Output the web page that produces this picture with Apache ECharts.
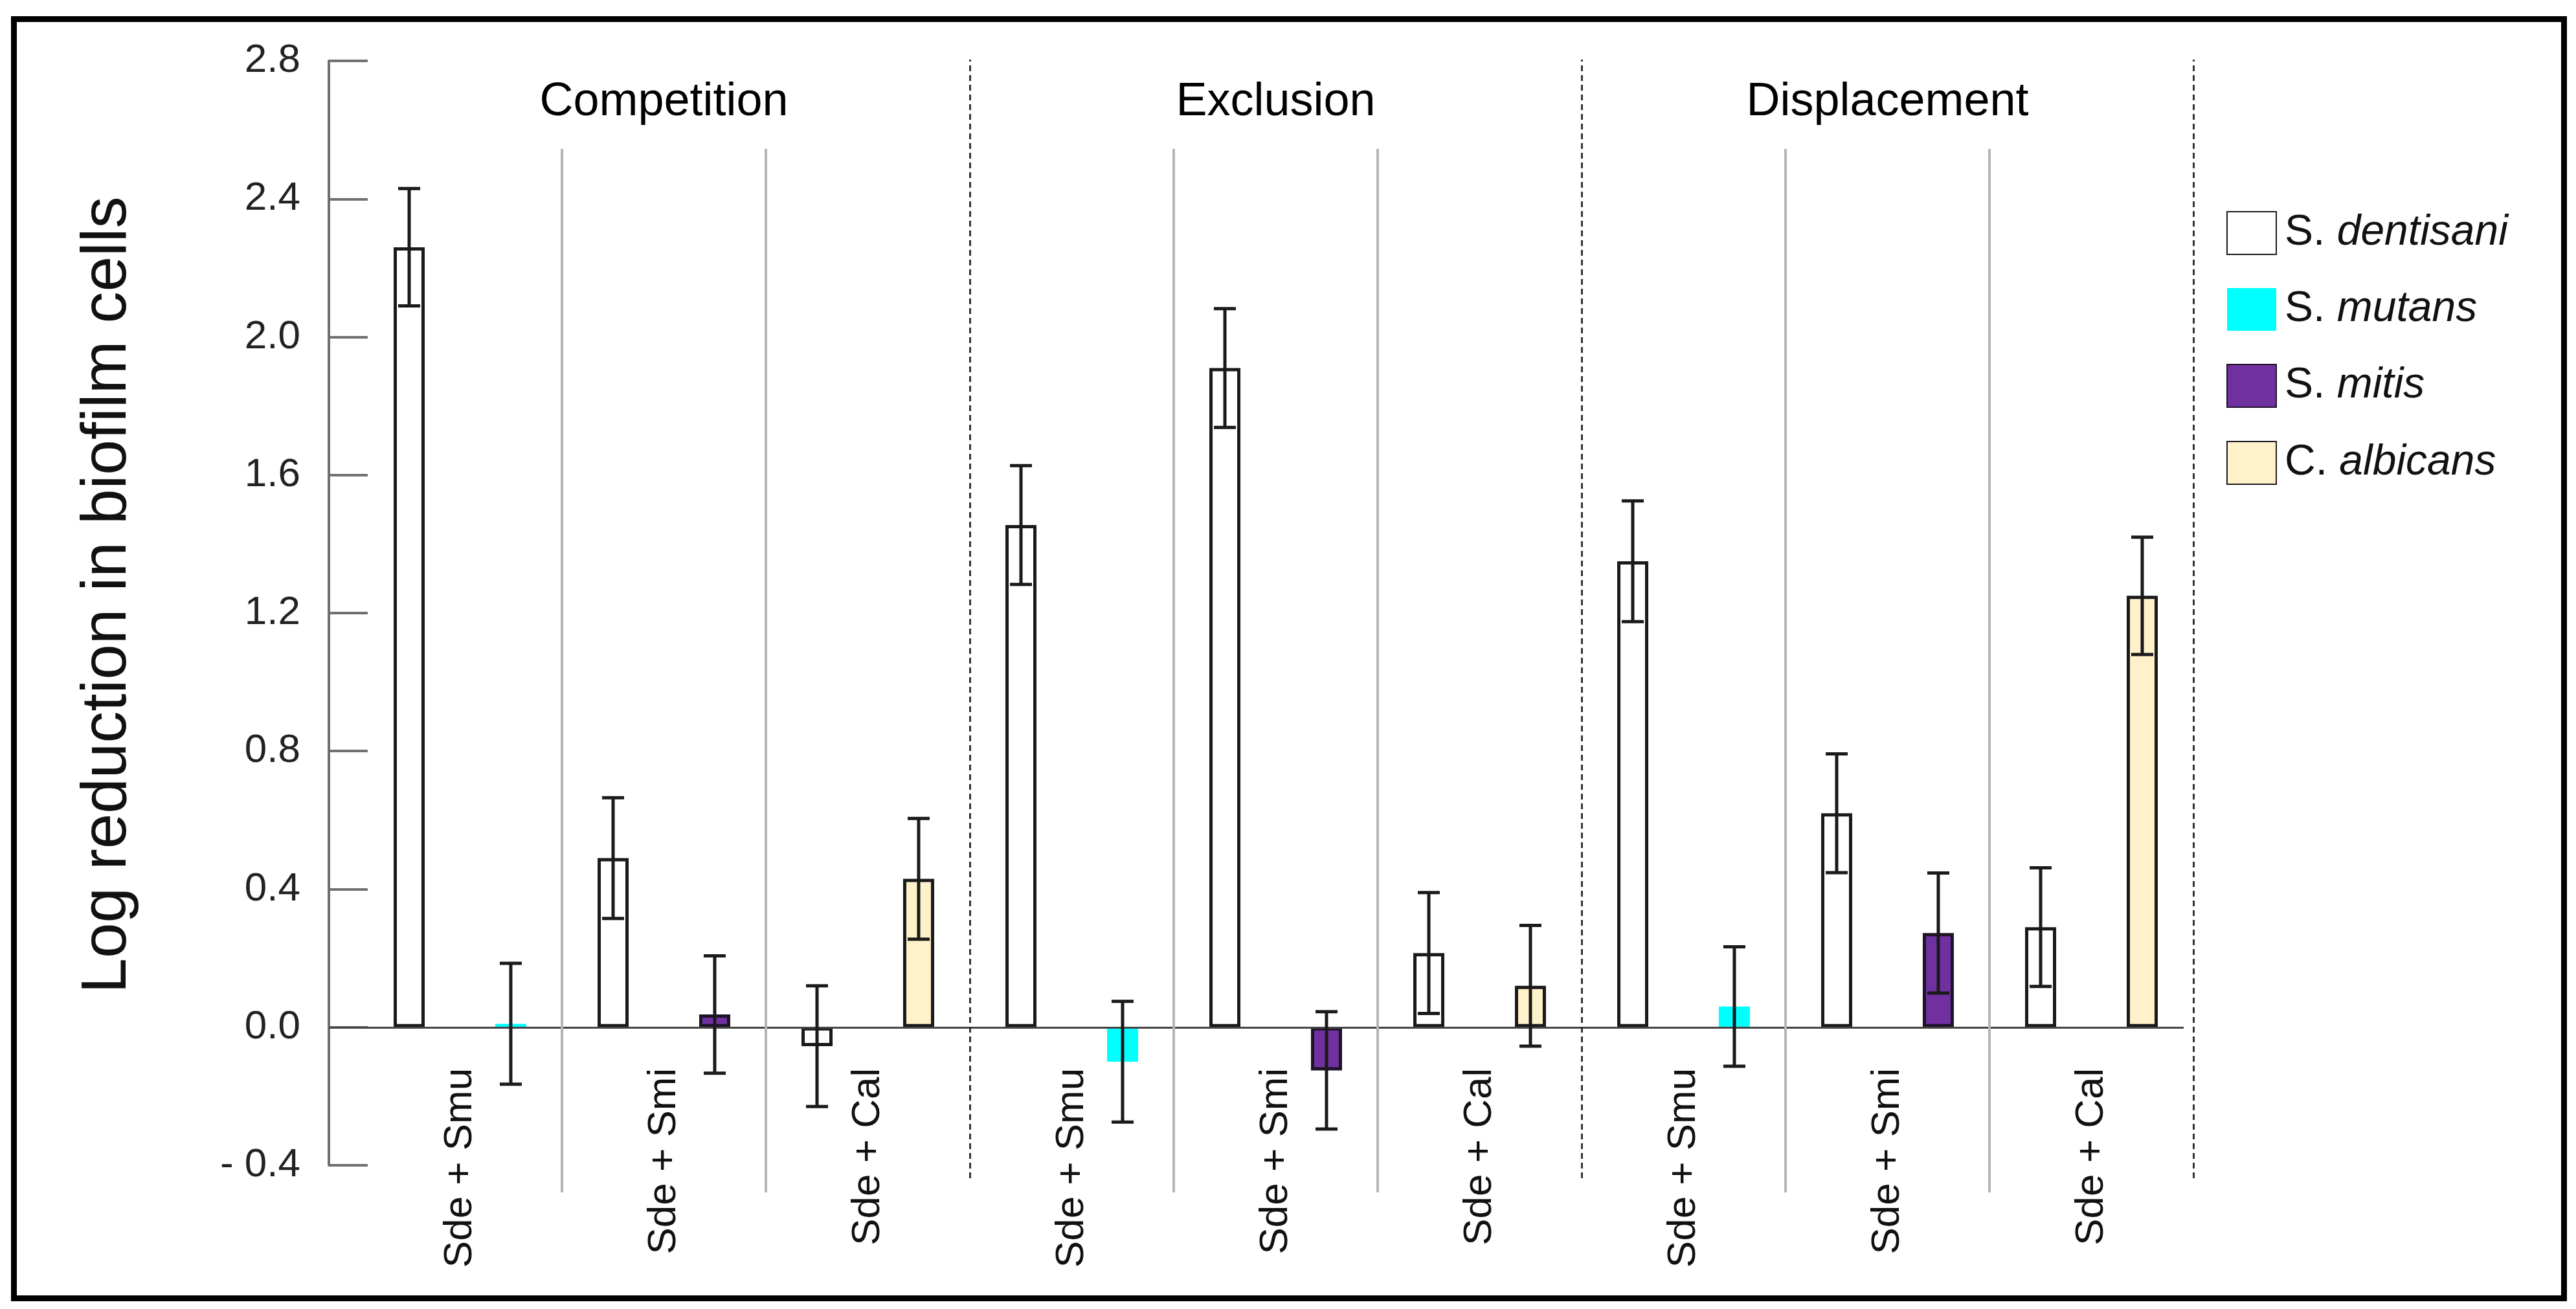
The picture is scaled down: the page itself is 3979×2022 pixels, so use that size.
<!DOCTYPE html>
<html>
<head>
<meta charset="utf-8">
<script src="https://cdn.jsdelivr.net/npm/echarts@6/dist/echarts.min.js"></script>
<style>
html,body{margin:0;padding:0;background:#fff;}
#chart{width:3979px;height:2022px;}
</style>
</head>
<body>
<div id="chart"></div>
<script>
// ---------------- data ----------------
const categories = ['Sde + Smu','Sde + Smi','Sde + Cal','Sde + Smu','Sde + Smi','Sde + Cal','Sde + Smu','Sde + Smi','Sde + Cal'];
const scenarios = ['Competition','Exclusion','Displacement'];
const dentisani    = [2.26, 0.49, -0.055, 1.455, 1.91, 0.215, 1.35, 0.62, 0.29];
const dentisaniErr = [0.17, 0.175, 0.175, 0.172, 0.172, 0.175, 0.175, 0.172, 0.172];
const mutans   = [0.01, null, null, -0.10, null, null, 0.06, null, null];
const mitis    = [null, 0.037, null, null, -0.125, null, null, 0.273, null];
const albicans = [null, null, 0.43, null, null, 0.12, null, null, 1.25];
const partnerErr = [0.175, 0.17, 0.175, 0.175, 0.17, 0.175, 0.173, 0.174, 0.17];
const yMin = -0.4, yMax = 2.8, yStep = 0.4;
const legendNames = ['S. dentisani','S. mutans','S. mitis','C. albicans'];
// separator positions in category units
const graySeparators = [1, 2, 4, 5, 7, 8];
const dashedSeparators = [3, 6, 9];

// ---------------- style ----------------
const FONT = "'Liberation Sans', Arial, sans-serif";
const BAR_W = 48, GAP_PCT = 227;
const OFFSET = BAR_W * (1 + GAP_PCT / 100) / 2;
const EDGE = '#1a1a1a';
const PLOT = {left: 553, right: 591, top: 94, bottom: 222};
const CHART_H = 2022;
// distance from grid bottom (y = yMin) up to y = 0, so the category labels hang from the zero line
const plotH = CHART_H - PLOT.top - PLOT.bottom;
const zeroLift = plotH * (0 - yMin) / (yMax - yMin);

const partnerMean = mutans.map((v, i) => v != null ? v : (mitis[i] != null ? mitis[i] : albicans[i]));

function errRender(side) {
  return function (params, api) {
    const x = api.value(0), m = api.value(1), e = api.value(2);
    const top = api.coord([x, m + e]);
    const bot = api.coord([x, m - e]);
    const cx = top[0] + side * OFFSET;
    const st = {stroke: EDGE, lineWidth: 5};
    const cap = 17;
    return {
      type: 'group',
      children: [
        {type: 'line', shape: {x1: cx, y1: top[1], x2: cx, y2: bot[1]}, style: st},
        {type: 'line', shape: {x1: cx - cap, y1: top[1], x2: cx + cap, y2: top[1]}, style: st},
        {type: 'line', shape: {x1: cx - cap, y1: bot[1], x2: cx + cap, y2: bot[1]}, style: st}
      ]
    };
  };
}

const chart = echarts.init(document.getElementById('chart'), null, {renderer: 'canvas'});

const hiddenValueX = (min, max, gridIndex) => ({type: 'value', gridIndex, min, max, show: false});
const hiddenValueY = (min, max, gridIndex) => ({type: 'value', gridIndex, min, max, show: false});
const mkGrid = g => Object.assign({containLabel: false, outerBoundsMode: 'none'}, g);

const option = {
  backgroundColor: '#ffffff',
  animation: false,
  textStyle: {fontFamily: FONT},
  graphic: [{
    type: 'rect', left: 17, top: 25, z: 100,
    shape: {width: 3939, height: 1976},
    style: {fill: 'none', stroke: '#000', lineWidth: 9}
  }],
  legend: {
    data: legendNames,
    orient: 'vertical',
    left: 3434, top: 321,
    icon: 'rect',
    itemWidth: 76, itemHeight: 66, itemGap: 51,
    selectedMode: false,
    formatter: function (name) {
      const parts = name.split(' ');
      return '{g|' + parts[0] + '} {s|' + parts[1] + '}';
    },
    textStyle: {
      fontSize: 66, color: '#111', fontFamily: FONT, padding: [0, 0, 0, 8],
      rich: {
        g: {fontSize: 66, color: '#111', fontFamily: FONT},
        s: {fontSize: 66, color: '#111', fontFamily: FONT, fontStyle: 'italic'}
      }
    }
  },
  grid: [
    // 0: bars
    mkGrid(PLOT),
    // 1: y-axis + zero line
    mkGrid({left: 508, right: 606, top: PLOT.top, bottom: PLOT.bottom}),
    // 2: dashed scenario separators
    mkGrid({left: PLOT.left, right: PLOT.right, top: 92, bottom: 202}),
    // 3: gray category separators
    mkGrid({left: PLOT.left, right: PLOT.right, top: 230, bottom: 180}),
    // 4: scenario titles
    mkGrid({left: PLOT.left, right: PLOT.right, top: 230, height: 100})
  ],
  xAxis: [
    {
      type: 'category', gridIndex: 0, data: categories,
      offset: -zeroLift,
      axisLine: {show: false, onZero: false},
      axisTick: {show: false},
      splitLine: {show: false},
      axisLabel: {
        interval: 0, rotate: 90, margin: 63,
        fontSize: 62, color: '#111', fontFamily: FONT
      }
    },
    hiddenValueX(0, 1, 1),
    hiddenValueX(0, categories.length, 2),
    hiddenValueX(0, categories.length, 3),
    {
      type: 'category', gridIndex: 4, data: scenarios, position: 'top',
      axisLine: {show: false}, axisTick: {show: false}, splitLine: {show: false},
      axisLabel: {interval: 0, margin: 36, fontSize: 72, color: '#000', fontFamily: FONT}
    }
  ],
  yAxis: [
    {type: 'value', gridIndex: 0, min: yMin, max: yMax, interval: yStep, show: false},
    {
      type: 'value', gridIndex: 1, min: yMin, max: yMax, interval: yStep,
      name: 'Log reduction in biofilm cells',
      nameLocation: 'middle', nameRotate: 90, nameGap: 292,
      nameTextStyle: {fontSize: 98, color: '#111', fontFamily: FONT, padding: [0, 0, 0, 56]},
      axisLine: {show: true, lineStyle: {color: '#707070', width: 4}},
      axisTick: {show: true, inside: true, length: 60, lineStyle: {color: '#707070', width: 4}},
      splitLine: {show: false},
      axisLabel: {
        margin: 44, fontSize: 62, color: '#222', fontFamily: FONT,
        formatter: v => v < 0 ? '- ' + Math.abs(v).toFixed(1) : v.toFixed(1)
      }
    },
    hiddenValueY(0, 1, 2),
    hiddenValueY(0, 1, 3),
    hiddenValueY(0, 1, 4)
  ],
  series: [
    {
      name: 'S. dentisani', type: 'bar', xAxisIndex: 0, yAxisIndex: 0,
      data: dentisani, barWidth: BAR_W, barGap: GAP_PCT + '%',
      itemStyle: {color: '#ffffff', borderColor: EDGE, borderWidth: 5}, z: 3
    },
    {
      name: 'S. mutans', type: 'bar', xAxisIndex: 0, yAxisIndex: 0, stack: 'partner',
      data: mutans, barWidth: BAR_W, barGap: GAP_PCT + '%',
      itemStyle: {color: '#00FFFF', borderWidth: 0}, z: 3
    },
    {
      name: 'S. mitis', type: 'bar', xAxisIndex: 0, yAxisIndex: 0, stack: 'partner',
      data: mitis, barWidth: BAR_W, barGap: GAP_PCT + '%',
      itemStyle: {color: '#7030A0', borderColor: '#1e1428', borderWidth: 5}, z: 3
    },
    {
      name: 'C. albicans', type: 'bar', xAxisIndex: 0, yAxisIndex: 0, stack: 'partner',
      data: albicans, barWidth: BAR_W, barGap: GAP_PCT + '%',
      itemStyle: {color: '#FFF1CA', borderColor: EDGE, borderWidth: 5}, z: 3
    },
    {
      name: 'errD', type: 'custom', xAxisIndex: 0, yAxisIndex: 0, z: 10,
      renderItem: errRender(-1),
      data: dentisani.map((v, i) => [i, v, dentisaniErr[i]])
    },
    {
      name: 'errP', type: 'custom', xAxisIndex: 0, yAxisIndex: 0, z: 10,
      renderItem: errRender(1),
      data: partnerMean.map((v, i) => [i, v, partnerErr[i]])
    },
    {
      name: 'zero', type: 'line', xAxisIndex: 1, yAxisIndex: 1, data: [], z: 2,
      markLine: {
        silent: true, symbol: 'none', label: {show: false}, animation: false,
        lineStyle: {color: '#444', width: 3, type: 'solid'},
        data: [{yAxis: 0}]
      }
    },
    {
      name: 'dashSep', type: 'line', xAxisIndex: 2, yAxisIndex: 2, data: [], z: 1,
      markLine: {
        silent: true, symbol: 'none', label: {show: false}, animation: false,
        lineStyle: {color: '#333', width: 3, type: [9, 6]},
        data: dashedSeparators.map(v => ({xAxis: v}))
      }
    },
    {
      name: 'graySep', type: 'line', xAxisIndex: 3, yAxisIndex: 3, data: [], z: 1,
      markLine: {
        silent: true, symbol: 'none', label: {show: false}, animation: false,
        lineStyle: {color: '#b5b5b5', width: 4, type: 'solid'},
        data: graySeparators.map(v => ({xAxis: v}))
      }
    }
  ]
};

chart.setOption(option);
</script>
</body>
</html>
